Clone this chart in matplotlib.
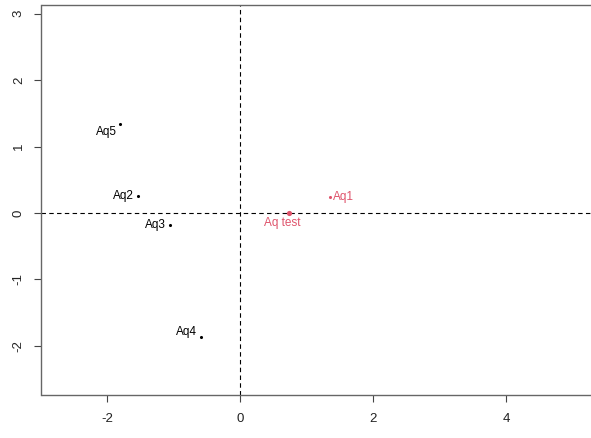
import matplotlib
matplotlib.use("Agg")
import matplotlib.pyplot as plt

# Data
names = ["Aq1", "Aq2", "Aq3", "Aq4", "Aq5"]
xs = [1.35, -1.53, -1.05, -0.59, -1.80]
ys = [0.24, 0.26, -0.18, -1.86, 1.34]
test_name = "Aq test"
test_x = [0.74]
test_y = [0.0]
xticks = [-2, 0, 2, 4]
yticks = [-2, -1, 0, 1, 2, 3]

RED = "#DF536B"
plt.rcParams["font.family"] = ["Liberation Sans", "DejaVu Sans"]

fig = plt.figure(figsize=(5.91, 4.38), dpi=100)
ax = fig.add_axes([41.5 / 591, 43 / 438, (597 - 41.5) / 591, (395 - 5) / 438])
ax.set_xlim(-2.985, 5.37)
ax.set_ylim(-2.737, 3.128)

ax.axhline(0, color="black", lw=0.8, ls=(0, (4, 3)), zorder=1)
ax.axvline(0, color="black", lw=0.8, ls=(0, (4, 3)), zorder=1)

# label style: (color, ha, va, offset px)
styles = {
    "Aq1": (RED, "left", "center", (3, 0)),
    "Aq2": ("black", "right", "center", (-4, 0)),
    "Aq3": ("black", "right", "center", (-4, 0)),
    "Aq4": ("black", "right", "center", (-4, 5)),
    "Aq5": ("black", "right", "center", (-3, -8)),
}
for n, x, y in zip(names, xs, ys):
    c, ha, va, off = styles[n]
    ax.scatter([x], [y], s=5, color=c, zorder=3, linewidths=0)
    ax.annotate(n, (x, y), xytext=off, textcoords="offset pixels",
                ha=ha, va=va, color=c, fontsize=8.5)

ax.scatter(test_x, test_y, s=14, color=RED, zorder=3, linewidths=0)
ax.annotate(test_name, (test_x[0], test_y[0]), xytext=(-7, -10),
            textcoords="offset pixels", ha="center", va="center",
            color=RED, fontsize=8.5)

ax.set_xticks(xticks)
ax.set_yticks(yticks)
ax.set_xticklabels([str(t) for t in xticks])
ax.set_yticklabels([str(t) for t in yticks], rotation=90, va="center")
ax.spines["right"].set_visible(False)
for s in ax.spines.values():
    s.set_color("#666666")
    s.set_linewidth(1)
ax.tick_params(axis="both", length=5, width=0.8, color="#444444",
               labelsize=9.5, labelcolor="#222222")
ax.tick_params(axis="x", pad=8)
ax.tick_params(axis="y", pad=7)

fig.savefig("out.png", dpi=100)
